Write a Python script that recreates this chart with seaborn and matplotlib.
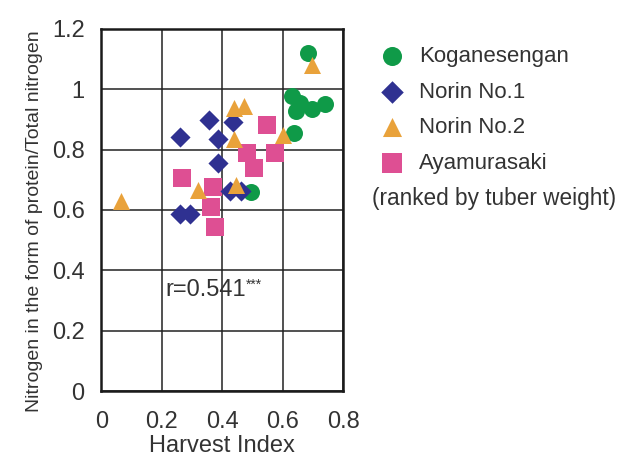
import matplotlib
matplotlib.use("Agg")
import matplotlib.pyplot as plt
import seaborn as sns
import numpy as np
from matplotlib.ticker import MultipleLocator

# data
kog_x = [0.684, 0.629, 0.656, 0.645, 0.695, 0.739, 0.636, 0.496]
kog_y = [1.119, 0.977, 0.955, 0.928, 0.933, 0.952, 0.856, 0.659]
n1_x = [0.356, 0.434, 0.260, 0.384, 0.384, 0.425, 0.463, 0.260, 0.293]
n1_y = [0.897, 0.892, 0.843, 0.834, 0.756, 0.664, 0.664, 0.588, 0.588]
n2_x = [0.695, 0.439, 0.471, 0.438, 0.599, 0.444, 0.320, 0.064]
n2_y = [1.081, 0.937, 0.944, 0.834, 0.849, 0.684, 0.667, 0.630]
aya_x = [0.548, 0.480, 0.574, 0.505, 0.266, 0.370, 0.364, 0.375]
aya_y = [0.881, 0.790, 0.789, 0.738, 0.705, 0.675, 0.610, 0.544]

sns.set_style("white")
plt.rcParams['font.family'] = ['Liberation Sans', 'DejaVu Sans']
txt_col = "#333333"

fig = plt.figure(figsize=(6.22, 4.59), dpi=100)
ax = fig.add_axes([0.163, 0.148, 0.389, 0.789])

# draw order: green, pink, blue, orange
groups = [
    ("Koganesengan", kog_x, kog_y, "o", 150, "#0f9a48", 3),
    ("Ayamurasaki", aya_x, aya_y, "s", 150, "#de4f93", 4),
    ("Norin No.1", n1_x, n1_y, "D", 105, "#2f3191", 5),
    ("Norin No.2", n2_x, n2_y, "^", 150, "#e9a23b", 6),
]
for name, xs, ys, mk, s, col, z in groups:
    sns.scatterplot(x=xs, y=ys, marker=mk, s=s, color=col, linewidth=0,
                    label=name, ax=ax, zorder=z)

ax.set_xlim(0, 0.8)
ax.set_ylim(0, 1.2)
ax.xaxis.set_minor_locator(MultipleLocator(0.05))
ax.yaxis.set_minor_locator(MultipleLocator(0.05))
ax.set_xticks([0, 0.2, 0.4, 0.6, 0.8], ["0", "0.2", "0.4", "0.6", "0.8"])
ax.set_yticks([0, 0.2, 0.4, 0.6, 0.8, 1.0, 1.2], ["0", "0.2", "0.4", "0.6", "0.8", "1", "1.2"])
ax.grid(True, which="major", color="#222222", linewidth=1.1)
ax.set_axisbelow(True)
ax.tick_params(which="minor", direction="in", length=5, width=1, color="#222222",
               top=False, right=False)
ax.tick_params(which="major", direction="in", length=0, labelsize=17,
               labelcolor=txt_col)
ax.tick_params(axis="x", which="major", pad=14)
ax.tick_params(axis="y", which="major", pad=12)
for sp in ax.spines.values():
    sp.set_color("#1a1a1a")
    sp.set_linewidth(1.8)

ax.set_xlabel("Harvest Index", fontsize=17, color=txt_col, labelpad=1.5)
ax.set_ylabel("Nitrogen in the form of protein/Total nitrogen", fontsize=14,
              color=txt_col, va="center")
ax.yaxis.set_label_coords(-0.275, 0.47)

t = ax.text(0.21, 0.335, "r=0.541", fontsize=17, color=txt_col, ha="left", va="center")
ax.annotate("***", xy=(1.0, 0.72), xycoords=t, fontsize=10, color=txt_col,
            ha="left", va="center")

h, l = ax.get_legend_handles_labels()
order = ["Koganesengan", "Norin No.1", "Norin No.2", "Ayamurasaki"]
hh = [h[l.index(o)] for o in order]
leg = ax.legend(hh, order, loc="upper left", bbox_to_anchor=(381 / 622, 1 - 46 / 459),
                bbox_transform=fig.transFigure, frameon=False, fontsize=16,
                handlelength=0.95, handletextpad=0.75, labelspacing=0.66,
                borderpad=0, borderaxespad=0, scatterpoints=1, markerscale=1.12)
for tx in leg.get_texts():
    tx.set_color(txt_col)
fig.text(372 / 622, 1 - 199 / 459, "(ranked by tuber weight)", fontsize=16.3,
         color=txt_col, ha="left", va="center")

fig.savefig("out.png", dpi=100, facecolor="white")
